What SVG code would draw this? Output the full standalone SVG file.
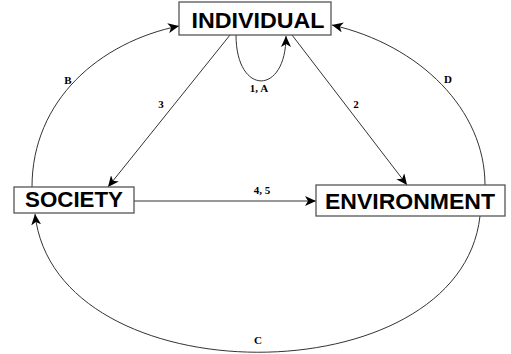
<svg xmlns="http://www.w3.org/2000/svg" width="511" height="354" viewBox="0 0 511 354">
<style>
.box{fill:#fff;stroke:#555;stroke-width:1.3}
.big{font-family:"Liberation Sans",Arial,sans-serif;font-weight:bold;font-size:22px;fill:#000;text-anchor:middle}
.lbl{font-family:"Liberation Serif","Times New Roman",serif;font-weight:bold;font-size:11px;fill:#000;text-anchor:middle}
.edge{fill:none;stroke:#333;stroke-width:1;marker-end:url(#ah)}
</style>
<defs>
<marker id="ah" markerUnits="userSpaceOnUse" markerWidth="12" markerHeight="10" refX="11" refY="5" orient="auto">
<path d="M0,0 L11,5 L0,10 L3,5 Z" fill="#000"/>
</marker>
</defs>
<rect width="511" height="354" fill="#fff"/>
<g id="connectors">
<path class="edge" d="M236,35 C236,96 286,96 286,36"/>
<path class="edge" d="M230,35 L108,187"/>
<path class="edge" d="M292,35 L407,185"/>
<path class="edge" d="M134,201 L316,201"/>
<path class="edge" d="M32,187 C32,100 100,42 179,26"/>
<path class="edge" d="M485,185 C485,110 420,45 332,25"/>
<path class="edge" d="M480,216 C460,398 55,398 35,214"/>
<text class="lbl" x="259" y="92">1, A</text>
<text class="lbl" x="161" y="108">3</text>
<text class="lbl" x="356" y="108">2</text>
<text class="lbl" x="262" y="194">4, 5</text>
<text class="lbl" x="68" y="84">B</text>
<text class="lbl" x="448" y="83">D</text>
<text class="lbl" x="258" y="344">C</text>
</g>
<g id="individual">
<rect class="box" x="179" y="2" width="152" height="33"/>
<text class="big" x="258" y="28" textLength="133" lengthAdjust="spacingAndGlyphs">INDIVIDUAL</text>
</g>
<g id="society">
<rect class="box" x="14" y="187" width="120" height="26"/>
<text class="big" x="74" y="207" textLength="98" lengthAdjust="spacingAndGlyphs">SOCIETY</text>
</g>
<g id="environment">
<rect class="box" x="316" y="185" width="189" height="31"/>
<text class="big" x="410" y="209" textLength="170" lengthAdjust="spacingAndGlyphs">ENVIRONMENT</text>
</g>
</svg>
